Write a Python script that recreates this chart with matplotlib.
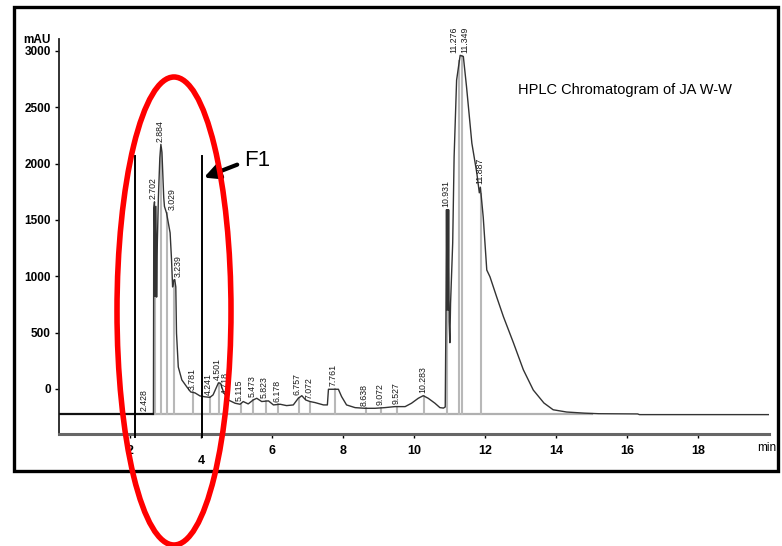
import matplotlib
matplotlib.use("Agg")
import matplotlib.pyplot as plt
from matplotlib.patches import Ellipse, Rectangle
import numpy as np

plt.rcParams['font.family'] = ['Liberation Sans', 'DejaVu Sans']

# ---- data ----
trace_t = [0.0, 2.64, 2.66, 2.67, 2.69, 2.71, 2.73, 2.75, 2.77, 2.80, 2.84, 2.87, 2.90, 2.95,
           2.97, 3.03, 3.13, 3.17, 3.20, 3.23, 3.26, 3.29, 3.31, 3.36, 3.46, 3.60, 3.71,
           3.83, 3.97, 4.11, 4.25, 4.34, 4.44, 4.49, 4.55, 4.63, 4.77, 4.96, 5.10, 5.19,
           5.33, 5.47, 5.57, 5.71, 5.90, 6.04, 6.23, 6.41, 6.60, 6.74, 6.84, 6.95, 7.07,
           7.21, 7.45, 7.56, 7.59, 7.87, 7.96, 8.10, 8.34, 8.62, 8.90, 9.18, 9.46, 9.75,
           9.93, 10.12, 10.26, 10.40, 10.59, 10.73, 10.83, 10.88, 10.90, 10.915, 10.93,
           10.945, 10.96, 10.975, 10.99, 11.01, 11.03, 11.09, 11.13, 11.20, 11.30, 11.39,
           11.48, 11.63, 11.77, 11.84, 11.87, 11.95, 12.05, 12.14, 12.33, 12.52, 12.80,
           13.08, 13.36, 13.66, 13.92, 14.3, 14.8, 15.2, 16.3, 16.35, 20.0]
trace_y = [-222, -222, -215, 1600, 1660, 820, 1620, 815, 1300, 1700, 2050, 2170, 2100, 1700,
           1620, 1560, 1385, 1145, 905, 960, 970, 905, 495, 195, 80, 18, -27,
           -35, -62, -70, -75, -53, 18, 53, 50, -24, -98, -127, -136, -112,
           -133, -98, -83, -112, -106, -142, -136, -148, -142, -83, -60, -98, -112,
           -121, -142, -142, -3, -3, -68, -142, -166, -172, -172, -166, -157, -157,
           -127, -83, -60, -83, -127, -166, -170, -160, 640, 1590, 700,
           1590, 700, 1590, 600, 410, 760, 1295, 2060, 2740, 2960, 2950,
           2680, 2180, 1915, 1740, 1790, 1525, 1055, 995, 815, 640, 410,
           170, -10, -125, -185, -205, -215, -220, -222, -228, -228]

peak_times = [2.428, 2.702, 2.884, 3.029, 3.239, 3.781, 4.241, 4.501, 4.718, 5.115,
              5.473, 5.823, 6.178, 6.757, 7.072, 7.761, 8.638, 9.072, 9.527, 10.283,
              10.931, 11.276, 11.349, 11.887]
peak_labels = ["2.428", "2.702", "2.884", "3.029", "3.239", "3.781", "4.241", "4.501",
               "4.718", "5.115", "5.473", "5.823", "6.178", "6.757", "7.072", "7.761",
               "8.638", "9.072", "9.527", "10.283", "10.931", "11.276", "11.349", "11.887"]

baseline_level = -222
fraction_bounds = [2.15, 4.03]
fraction_top = 2070
x_ticks = [2, 4, 6, 8, 10, 12, 14, 16, 18]
y_ticks = [0, 500, 1000, 1500, 2000, 2500, 3000]

# ---- figure ----
fig = plt.figure(figsize=(7.82, 5.46), dpi=100)
ax = fig.add_axes([59/782, (546-434)/546, 710/782, 395/546])
ax.set_xlim(0, 20)
ax.set_ylim(-400, 3105)

t = np.array(trace_t)
y = np.array(trace_y)


def local_top(pt, w=0.03):
    m = (t >= pt - w) & (t <= pt + w)
    v = np.interp(pt, t, y)
    if m.any():
        v = max(v, y[m].max())
    return v


# gray baseline
ax.plot([2.64, 15.0], [baseline_level, baseline_level], color='#b0b0b0', lw=1.6, zorder=1)
# black baseline before injection
ax.plot([0, 2.64], [baseline_level, baseline_level], color='#111111', lw=1.6, zorder=3)

# gray peak drop lines
for pt in peak_times:
    top = np.interp(pt, t, y)
    ax.plot([pt, pt], [baseline_level, top], color='#b8b8b8', lw=1.5, zorder=1)

# trace
ax.plot(t, y, color='#333333', lw=1.0, zorder=2)

# peak labels
dx = {"11.276": -4, "11.349": 2, "3.029": 4, "3.239": 3}
for pt, lab in zip(peak_times, peak_labels):
    top = local_top(pt)
    ax.annotate(lab, (pt, top), xytext=(dx.get(lab, -1), 2), textcoords='offset points',
                rotation=90, ha='center', va='bottom', fontsize=6.3, color='#1a1a1a',
                zorder=4)

# fraction boundary lines
for b in fraction_bounds:
    ax.plot([b, b], [-430, fraction_top], color='black', lw=1.4, zorder=3, clip_on=False)

# arrow + F1
ax.annotate("", xy=(4.08, 1875), xytext=(5.02, 1990),
            arrowprops=dict(arrowstyle='-|>,head_length=0.9,head_width=0.45',
                            color='black', lw=3, shrinkA=0, shrinkB=0), zorder=5)
fig.text(244/782, 1-160/546, "F1", fontsize=16, va='center', ha='left')

# axes styling
for s in ['top', 'right']:
    ax.spines[s].set_visible(False)
ax.spines['left'].set_linewidth(1.3)
ax.spines['left'].set_color('#222222')
ax.spines['bottom'].set_linewidth(2.2)
ax.spines['bottom'].set_color('#666666')
ax.set_xticks(x_ticks)
ax.set_yticks(y_ticks)
ax.set_yticklabels([str(v) for v in y_ticks], fontsize=8.5, fontweight='bold')
ax.set_xticklabels([str(v) for v in x_ticks], fontsize=9, fontweight='bold')
ax.tick_params(axis='y', length=3, width=1, pad=3)
ax.tick_params(axis='x', length=3, width=1, pad=5)
ax.xaxis.get_major_ticks()[1].set_pad(12)
ax.annotate("mAU", xy=(0, 3040), xycoords=('axes fraction', 'data'),
            xytext=(-6, 0), textcoords='offset points',
            fontsize=8.5, fontweight='bold', ha='right', va='bottom')
fig.text(776/782, 1-448/546, "min", fontsize=8.5, ha='right', va='center')

fig.text(518/782, 1-90/546, "HPLC Chromatogram of JA W-W", fontsize=10.5, va='center', ha='left')

# frame
fig.patches.append(Rectangle((14/782, 1-471/546), 764/782, 464/546, transform=fig.transFigure,
                             fill=False, edgecolor='black', lw=2.4, zorder=10))
# red ellipse
fig.patches.append(Ellipse((174/782, 1-311/546), 114/782, 468/546, transform=fig.transFigure,
                           fill=False, edgecolor='#ff0000', lw=4.0, zorder=11))

fig.savefig("out.png", dpi=100)
